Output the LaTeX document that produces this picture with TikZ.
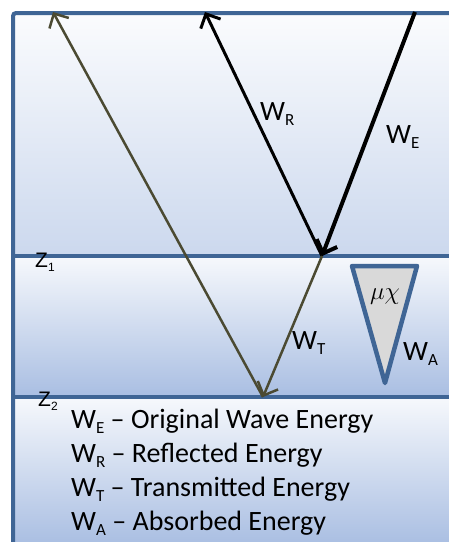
\documentclass[tikz,border=0pt]{standalone}
\usepackage{fontspec}
\setmainfont{Carlito}
\newfontfamily\zfont{Liberation Sans}
\usepackage{amsmath}
\usetikzlibrary{arrows.meta}
\definecolor{frameblue}{HTML}{3F6595}
\definecolor{wavebrown}{HTML}{4B4A32}
\definecolor{layerlow}{HTML}{A9BEE2}
\newcommand{\lsub}[1]{\raisebox{-0.35ex}{\fontsize{17}{17}\selectfont #1}}

\begin{document}
\begin{tikzpicture}[x=1pt, y=-1pt, >={Straight Barb[length=11pt,width=22pt]},
    lab/.style={font=\fontsize{28}{30}\selectfont, inner sep=0pt, anchor=west},
    zlab/.style={font=\zfont\fontsize{21}{22}\selectfont, inner sep=0pt}]
    \useasboundingbox (0,0) rectangle (449,542);
    \clip (0,0) rectangle (449,542);

    % Cac lop
    \fill[top color=white!95!layerlow, bottom color=white!40!layerlow] (13,13) rectangle (470,256);
    \fill[top color=white!90!layerlow, bottom color=layerlow] (13,256) rectangle (470,397);
    \fill[top color=white!90!layerlow, bottom color=layerlow] (13,397) rectangle (470,545);
    \draw[frameblue, line width=4pt, rounded corners=3pt] (470,13) -- (13,13) -- (13,560);
    \draw[frameblue, line width=3.5pt] (13,256) -- (470,256);
    \draw[frameblue, line width=3.5pt] (13,397) -- (470,397);

    % Cac diem
    \coordinate (eTop) at (415,12);
    \coordinate (hit1) at (322,256);
    \coordinate (rTop) at (205,12);
    \coordinate (hit2) at (263,397);
    \coordinate (tTop) at (53,12);

    % Song
    \draw[->, line width=4pt] (eTop) -- (hit1);
    \draw[->, line width=3pt] (hit1) -- (rTop);
    \draw[->, wavebrown, line width=2.5pt] (hit1) -- (hit2);
    \draw[->, wavebrown, line width=2.5pt] (hit2) -- (tTop);

    % Tam giac hap thu
    \draw[frameblue, fill=black!15, line width=4.5pt, line join=round] (352,266) -- (417,266) -- (385,383) -- cycle;
    \node[inner sep=0pt] (mx) at (385,297) {\fontsize{27}{28}\selectfont$\mu\chi$};

    % Nhan
    \node[lab] (wr) at (260,114) {W\lsub{R}};
    \node[lab] (we) at (386,137) {W\lsub{E}};
    \node[lab] (wt) at (292,343) {W\lsub{T}};
    \node[lab] (wa) at (403,354) {W\lsub{A}};
    \node[zlab] (z1) at (45,262) {Z\lsub{\fontsize{12}{12}\selectfont 1}};
    \node[zlab] (z2) at (48,401) {Z\lsub{\fontsize{12}{12}\selectfont 2}};

    % Chu thich
    \node[lab] (l1) at (71,421) {W\lsub{E} – Original Wave Energy};
    \node[lab] (l2) at (71,455) {W\lsub{R} – Reflected Energy};
    \node[lab] (l3) at (71,489) {W\lsub{T} – Transmitted Energy};
    \node[lab] (l4) at (71,523) {W\lsub{A} – Absorbed Energy};
\end{tikzpicture}
\end{document}
